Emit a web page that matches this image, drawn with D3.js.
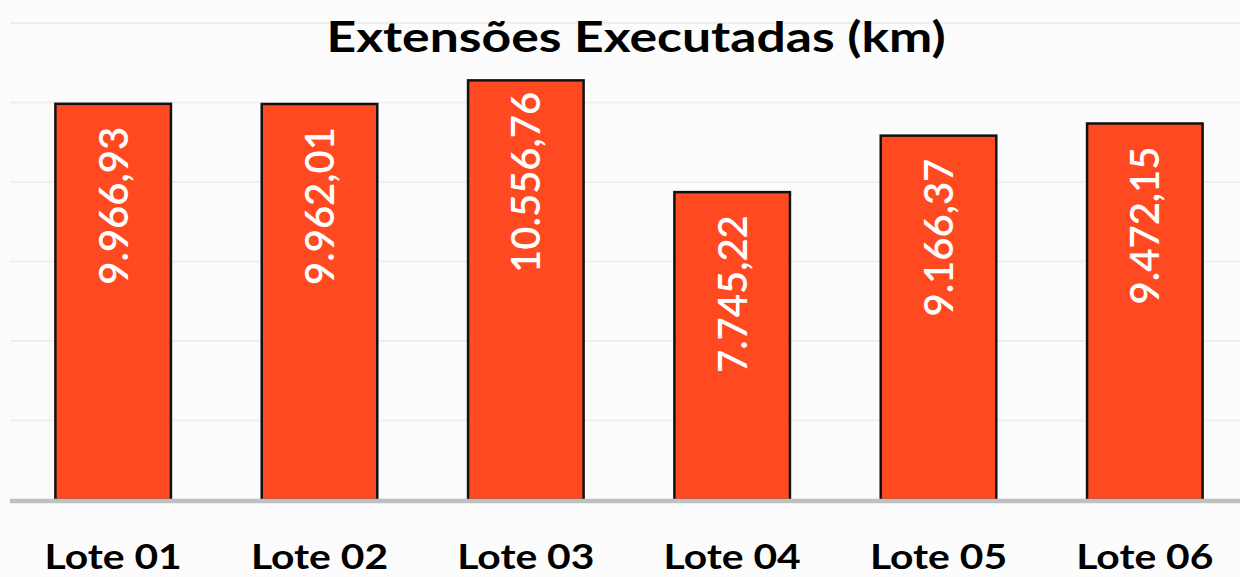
<!DOCTYPE html>
<html>
<head>
<meta charset="utf-8">
<script src="https://cdn.jsdelivr.net/npm/d3@7"></script>
<style>
  html, body { margin: 0; padding: 0; background: #fcfcfc; }
  svg { display: block; }
</style>
</head>
<body>
<script>
const title = "Extensões Executadas (km)";
const lotes = ["Lote 01", "Lote 02", "Lote 03", "Lote 04", "Lote 05", "Lote 06"];
const extensoes = [9966.93, 9962.01, 10556.76, 7745.22, 9166.37, 9472.15];
const yTicks = [0, 2000, 4000, 6000, 8000, 10000, 12000];

const width = 1240, height = 577;
const margin = { top: 23, right: -8, bottom: 75, left: 10 };

// pt-BR number format: 9.966,93
const fmt = d3.formatLocale({ decimal: ",", thousands: ".", grouping: [3], currency: ["R$", ""] })
  .format(",.2f");

const svg = d3.select("body").append("svg")
  .attr("width", width)
  .attr("height", height);

const x = d3.scaleBand()
  .domain(lotes)
  .range([margin.left, width - margin.right])
  .paddingInner(0.44)
  .paddingOuter(0.22);

const y = d3.scaleLinear()
  .domain([0, 12000])
  .range([height - margin.bottom - 2, margin.top]);

// gridlines
svg.append("g")
  .selectAll("line")
  .data(yTicks.filter(d => d > 0))
  .join("line")
    .attr("x1", margin.left)
    .attr("x2", width)
    .attr("y1", d => y(d))
    .attr("y2", d => y(d))
    .attr("stroke", "#efefef")
    .attr("stroke-width", 2);

// bars
const bars = svg.append("g");
bars.selectAll("rect")
  .data(extensoes)
  .join("rect")
    .attr("x", (d, i) => x(lotes[i]))
    .attr("y", d => y(d))
    .attr("width", x.bandwidth())
    .attr("height", d => y(0) - y(d))
    .attr("fill", "#ff4a21")
    .attr("stroke", "#111")
    .attr("stroke-width", 2.5);

// baseline
svg.append("line")
  .attr("x1", margin.left)
  .attr("x2", width)
  .attr("y1", y(0) + 1)
  .attr("y2", y(0) + 1)
  .attr("stroke", "#c0c0c0")
  .attr("stroke-width", 4.5);

// value labels (rotated, inside the bars)
bars.selectAll("text")
  .data(extensoes)
  .join("text")
    .attr("transform", (d, i) =>
      "translate(" + (x(lotes[i]) + x.bandwidth() / 2) + "," + (y(d) + 102) + ") rotate(-90)")
    .attr("text-anchor", "middle")
    .attr("dy", "0.36em")
    .attr("fill", "#fff")
    .style("font-family", "Lato, sans-serif")
    .style("font-weight", "600")
    .style("font-size", "40px")
    .text(d => fmt(d));

// category axis (the original is stretched horizontally a bit)
const xAxis = svg.append("g")
  .attr("transform", "translate(0," + (y(0) + 3) + ")")
  .call(d3.axisBottom(x).tickSize(0).tickPadding(42));
xAxis.select(".domain").remove();
xAxis.selectAll("text")
  .attr("fill", "#000")
  .attr("transform", "scale(1.2,1)")
  .style("font-family", "Lato, sans-serif")
  .style("font-weight", "bold")
  .style("font-size", "34px");

// title
svg.append("text")
  .attr("transform", "translate(636,52) scale(1.23,1)")
  .attr("text-anchor", "middle")
  .attr("fill", "#000")
  .style("font-family", "Lato, sans-serif")
  .style("font-weight", "bold")
  .style("font-size", "42px")
  .text(title);
</script>
</body>
</html>
